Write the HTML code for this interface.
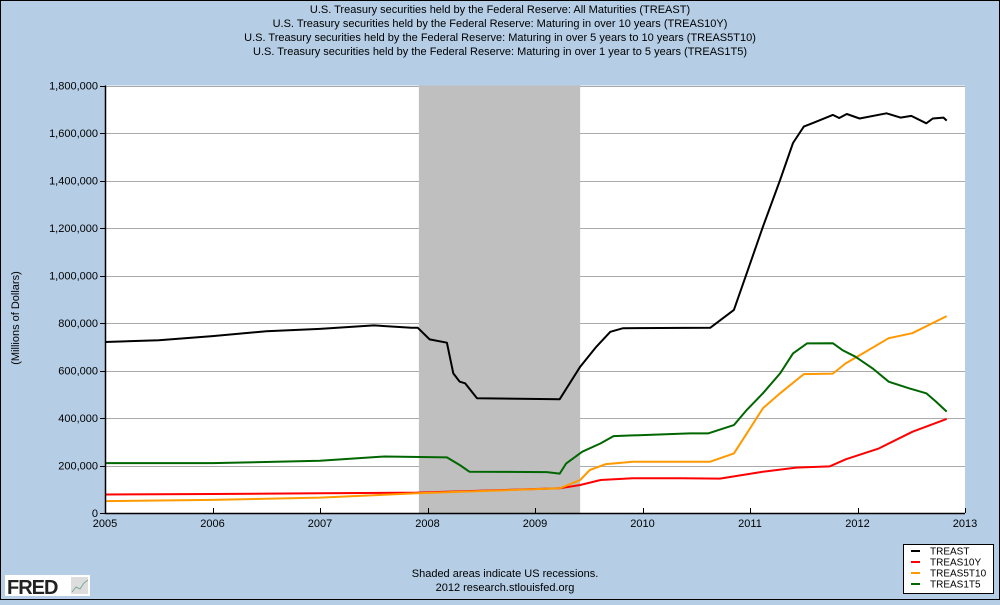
<!DOCTYPE html>
<html><head><meta charset="utf-8"><style>
html,body{margin:0;padding:0;}
body{width:1000px;height:600px;overflow:hidden;background:#b5cde5;font-family:"Liberation Sans",Arial,sans-serif;}
</style></head><body>
<svg id="c" width="1000" height="600" xmlns="http://www.w3.org/2000/svg" font-family="Liberation Sans, Arial, sans-serif">
<rect x="0.5" y="0.5" width="999" height="599" fill="#b5cde5" stroke="#000"/>
<g font-size="11" text-anchor="middle" fill="#000">
<text x="500" y="13">U.S. Treasury securities held by the Federal Reserve: All Maturities (TREAST)</text>
<text x="500" y="27">U.S. Treasury securities held by the Federal Reserve: Maturing in over 10 years (TREAS10Y)</text>
<text x="500" y="41">U.S. Treasury securities held by the Federal Reserve: Maturing in over 5 years to 10 years (TREAS5T10)</text>
<text x="500" y="55">U.S. Treasury securities held by the Federal Reserve: Maturing in over 1 year to 5 years (TREAS1T5)</text>
</g>
<rect x="105" y="85.5" width="860" height="427.5" fill="#fff"/>
<g id="grid"></g>
<g id="rec"></g>
<g id="series"></g>
<g id="axes"></g>
<text x="0" y="0" transform="translate(19,318) rotate(-90)" font-size="11" text-anchor="middle">(Millions of Dollars)</text>
<g>
<rect x="903.5" y="544.5" width="90" height="49" fill="#fff" stroke="#000"/>
<g font-size="10">
<line x1="911" y1="551" x2="920" y2="551" stroke="#000" stroke-width="2"/><text x="930" y="554.5">TREAST</text>
<line x1="911" y1="562" x2="920" y2="562" stroke="#f00" stroke-width="2"/><text x="930" y="565.5">TREAS10Y</text>
<line x1="911" y1="573" x2="920" y2="573" stroke="#ff9900" stroke-width="2"/><text x="930" y="576.5">TREAS5T10</text>
<line x1="911" y1="584" x2="920" y2="584" stroke="#006600" stroke-width="2"/><text x="930" y="587.5">TREAS1T5</text>
</g></g>
<g font-size="11" text-anchor="middle">
<text x="505" y="577">Shaded areas indicate US recessions.</text>
<text x="505" y="591">2012 research.stlouisfed.org</text>
</g>
<g>
<rect x="5" y="575" width="85" height="21" fill="#fff"/>
<text x="7" y="594" font-size="20" font-weight="bold" fill="#222" letter-spacing="-1">FRED</text>
<rect x="71" y="577" width="17" height="17" fill="#ddd"/>
<polyline points="72,592 76,587 80,589 84,583 88,580" fill="none" stroke="#7a9" stroke-width="1"/>
</g>
</svg>
<script>
const yearTicks=[2005,2006,2007,2008,2009,2010,2011,2012,2013];
const valueTicks=[0,200000,400000,600000,800000,1000000,1200000,1400000,1600000,1800000];
const recessionStart=2007.92, recessionEnd=2009.42;
const tTreast=[2005.0,2005.5,2006.0,2006.5,2007.0,2007.5,2007.85,2007.91,2008.02,2008.18,2008.24,2008.30,2008.35,2008.46,2009.23,2009.42,2009.57,2009.70,2009.82,2010.63,2010.85,2010.97,2011.12,2011.28,2011.40,2011.50,2011.59,2011.77,2011.83,2011.90,2012.02,2012.27,2012.40,2012.50,2012.64,2012.70,2012.80,2012.83];
const vTreast=[720000,727000,745000,765000,775000,790000,780000,780000,731000,717000,588000,553000,546000,483000,479000,616000,700000,763000,778000,780000,855000,1010000,1205000,1402000,1558000,1627000,1643000,1676000,1663000,1680000,1661000,1683000,1665000,1672000,1641000,1661000,1665000,1652000];
const t10y=[2005.0,2006.0,2007.0,2007.9,2009.23,2009.42,2009.61,2009.91,2010.36,2010.72,2011.12,2011.43,2011.74,2011.89,2012.20,2012.51,2012.83];
const v10y=[78000,80000,83000,86000,104000,118000,139000,146000,146000,145000,174000,191000,196000,226000,272000,342000,396000];
const t5t10=[2005.0,2006.0,2007.0,2007.9,2009.23,2009.42,2009.51,2009.66,2009.91,2010.63,2010.85,2010.97,2011.12,2011.28,2011.50,2011.77,2011.89,2012.05,2012.29,2012.51,2012.83];
const v5t10=[50000,55000,65000,83000,104000,139000,181000,206000,216000,216000,251000,335000,441000,504000,585000,587000,630000,672000,736000,757000,829000];
const t1t5=[2005.0,2006.0,2007.0,2007.6,2008.18,2008.30,2008.39,2009.11,2009.23,2009.29,2009.44,2009.61,2009.73,2010.44,2010.61,2010.85,2010.97,2011.12,2011.28,2011.40,2011.53,2011.77,2011.86,2011.98,2012.14,2012.29,2012.48,2012.64,2012.73,2012.83];
const v1t5=[210000,210000,220000,238000,234000,202000,174000,172000,166000,209000,258000,293000,324000,335000,335000,370000,434000,504000,588000,672000,714000,715000,686000,658000,609000,553000,525000,504000,469000,427000];
const X0=105,X1=965,Y0=513,Y1=85.5;
function xs(t){return X0+(t-2005)/(2013-2005)*(X1-X0);}
function ys(v){return Y0-v/1800000*(Y0-Y1);}
const NS="http://www.w3.org/2000/svg";
function mk(tag,attrs,parent){const e=document.createElementNS(NS,tag);for(const k in attrs)e.setAttribute(k,attrs[k]);parent.appendChild(e);return e;}
const grid=document.getElementById('grid'),axes=document.getElementById('axes'),rec=document.getElementById('rec'),ser=document.getElementById('series');
valueTicks.forEach(v=>{
  if(v>0){const g=mk('line',{x1:X0,x2:X1,y1:Math.round(ys(v))+0.5,y2:Math.round(ys(v))+0.5,stroke:'#aaa','stroke-width':1},grid);
  
  }
  const tk=mk('line',{x1:X0-5,x2:X0,y1:Math.round(ys(v))+0.5,y2:Math.round(ys(v))+0.5,stroke:'#000'},axes);
  
  
  const tx=mk('text',{x:X0-7,y:ys(v)+4,'font-size':11,'text-anchor':'end'},axes);
  tx.textContent=v.toLocaleString('en-US');
  
  
});
const r=mk('rect',{x:xs(recessionStart),y:Y1,width:xs(recessionEnd)-xs(recessionStart),height:Y0-Y1,fill:'#bfbfbf'},rec);


yearTicks.forEach(y=>{
  const tk=mk('line',{x1:Math.round(xs(y))+0.5,x2:Math.round(xs(y))+0.5,y1:Y0,y2:Y0-5,stroke:'#000'},axes);
  
  
  const tx=mk('text',{x:xs(y),y:Y0+14,'font-size':11,'text-anchor':'middle'},axes);
  tx.textContent=y;
  
  
});
const ax=mk('polyline',{points:`${X0+0.5},${Y1} ${X0+0.5},${Y0+0.5} ${X1},${Y0+0.5}`,fill:'none',stroke:'#000','stroke-width':1.5},axes);


function line(ts,vs,color,name){
  const p=mk('polyline',{points:ts.map((t,i)=>xs(t).toFixed(1)+','+ys(vs[i]).toFixed(1)).join(' '),fill:'none',stroke:color,'stroke-width':2,'stroke-linejoin':'round'},ser);
  
  
}
line(t10y,v10y,'#ff0000','series-treas10y');
line(t5t10,v5t10,'#ff9900','series-treas5t10');
line(t1t5,v1t5,'#006600','series-treas1t5');
line(tTreast,vTreast,'#000000','series-treast');
</script>
</body></html>
